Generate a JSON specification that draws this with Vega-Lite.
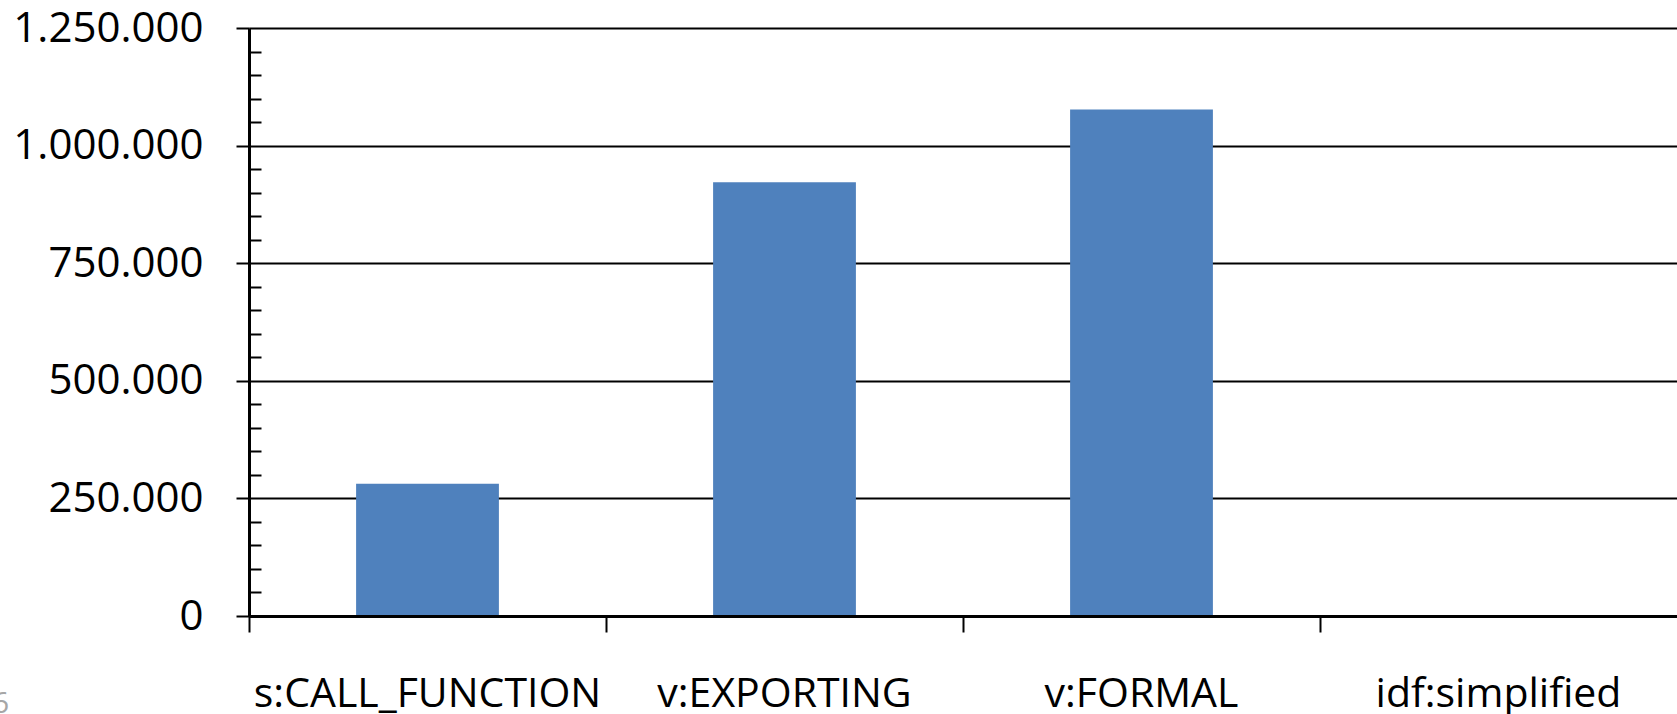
{
  "$schema": "https://vega.github.io/schema/vega-lite/v6.json",
  "width": 1428,
  "height": 588,
  "autosize": "none",
  "padding": {"left": 249, "top": 28, "right": 0, "bottom": 98},
  "background": "white",
  "config": {"view": {"stroke": null}, "font": "Open Sans"},
  "data": {
    "values": [
      {"category": "s:CALL_FUNCTION", "value": 281000},
      {"category": "v:EXPORTING", "value": 922000},
      {"category": "v:FORMAL", "value": 1077000},
      {"category": "idf:simplified", "value": 1500}
    ]
  },
  "mark": {"type": "bar", "color": "#4F81BD"},
  "encoding": {
    "x": {
      "field": "category",
      "type": "nominal",
      "sort": null,
      "scale": {"paddingInner": 0.6, "paddingOuter": 0.3},
      "axis": {
        "title": "6",
        "titleColor": "#a6a6a6",
        "titleFontSize": 30,
        "titleFontWeight": "normal",
        "titleFont": "Open Sans",
        "titleX": -249,
        "titleY": 96,
        "titleAlign": "center",
        "titleBaseline": "alphabetic",
        "titleAnchor": null,
        "labelAngle": 0,
        "labelFont": "Open Sans",
        "labelFontSize": 41,
        "labelColor": "black",
        "labelBaseline": "alphabetic",
        "labelAlign": "center",
        "labelPadding": 74,
        "labelLimit": 0,
        "labelOverlap": false,
        "labelBound": false,
        "bandPosition": -0.75,
        "tickSize": 16,
        "tickWidth": 2,
        "tickColor": "black",
        "domainColor": "black",
        "domainWidth": 3,
        "zindex": 1
      }
    },
    "y": {
      "field": "value",
      "type": "quantitative",
      "scale": {"domain": [0, 1250000], "nice": false},
      "axis": {
        "title": null,
        "values": [0, 50000, 100000, 150000, 200000, 250000, 300000, 350000, 400000, 450000, 500000, 550000, 600000, 650000, 700000, 750000, 800000, 850000, 900000, 950000, 1000000, 1050000, 1100000, 1150000, 1200000, 1250000],
        "grid": true,
        "gridColor": "black",
        "gridWidth": 2,
        "gridOpacity": {"condition": {"test": "datum.value % 250000 === 0", "value": 1}, "value": 0},
        "tickSize": {"condition": {"test": "datum.value % 250000 === 0", "value": 13}, "value": -12},
        "tickWidth": 2,
        "tickColor": "black",
        "domainColor": "black",
        "domainWidth": 3,
        "labelExpr": "datum.value % 250000 === 0 ? replace(replace(format(datum.value, ','), ',', '.'), ',', '.') : ''",
        "labelFont": "Open Sans",
        "labelFontSize": 42,
        "labelColor": "black",
        "labelPadding": 33,
        "labelLimit": 0,
        "labelFlush": false,
        "labelOverlap": false,
        "labelBound": false
      }
    }
  }
}
